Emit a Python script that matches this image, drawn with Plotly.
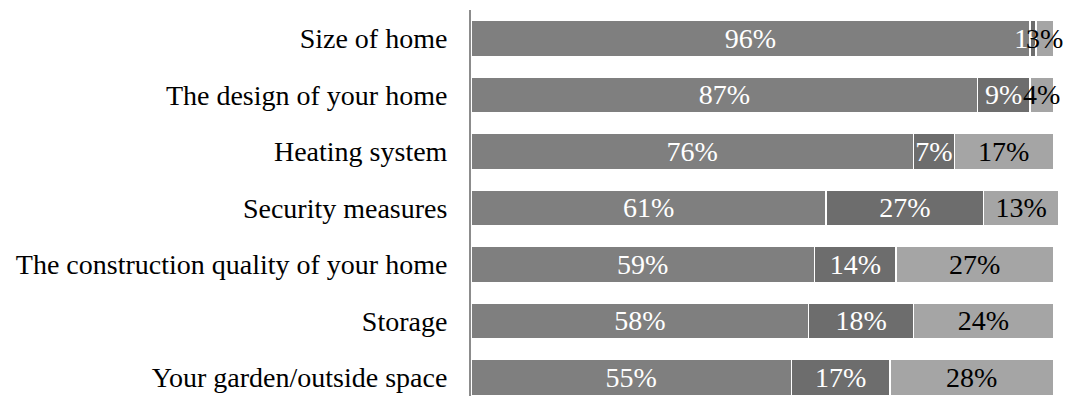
import plotly.graph_objects as go

categories = ["Size of home", "The design of your home", "Heating system",
              "Security measures", "The construction quality of your home",
              "Storage", "Your garden/outside space"]
s1 = [96, 87, 76, 61, 59, 58, 55]
s2 = [1, 9, 7, 27, 14, 18, 17]
s3 = [3, 4, 17, 13, 27, 24, 28]

colors = ["#7f7f7f", "#6d6d6d", "#a5a5a5"]
textcolors = ["white", "white", "black"]
FONT = "Liberation Serif, Times New Roman, serif"

fig = go.Figure()
for vals, col, tc in zip([s1, s2, s3], colors, textcolors):
    fig.add_trace(go.Bar(
        y=categories, x=vals, orientation="h",
        marker=dict(color=col, line=dict(color="white", width=1.5)),
        text=[f"{v}%" for v in vals], textposition="inside",
        insidetextanchor="middle", constraintext="none", textangle=0,
        textfont=dict(family=FONT, size=28, color=tc),
        hoverinfo="skip", cliponaxis=False,
    ))

fig.update_layout(
    barmode="stack", bargap=0.363,
    width=1066, height=396,
    margin=dict(l=471, r=4, t=10, b=0),
    paper_bgcolor="white", plot_bgcolor="white",
    showlegend=False,
    font=dict(family=FONT, size=28, color="black"),
)
fig.update_xaxes(range=[0, 101.5], visible=False)
fig.update_yaxes(range=[6.33, -0.5], showline=True, linecolor="#8c8c8c",
                 linewidth=2, ticks="", ticklabelstandoff=16,
                 showgrid=False, tickfont=dict(family=FONT, size=28))
fig.write_html("out.html")
